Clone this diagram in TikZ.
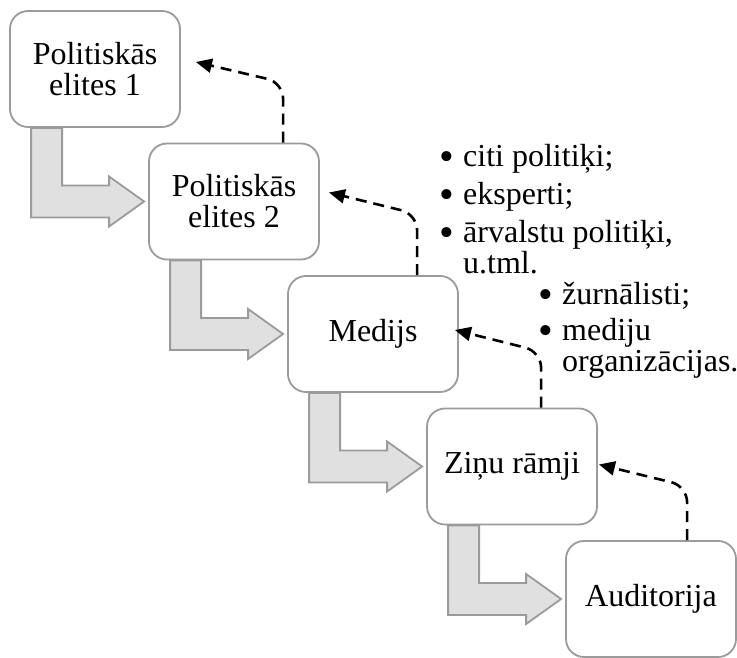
\documentclass[tikz,border=0pt]{standalone}
\usepackage{fontspec}
\setmainfont{Liberation Serif}
\usetikzlibrary{arrows.meta}
\definecolor{linegray}{RGB}{155,155,155}
\definecolor{fillgray}{RGB}{224,224,224}
\newcommand{\itemdot}{\makebox[23pt][l]{\hspace{-1pt}\raisebox{-4pt}{\fontsize{42}{31}\selectfont •}}}
\tikzset{
  stage/.style={draw=linegray, line width=1.8pt, fill=white, rounded corners=18pt,
    minimum width=170pt, minimum height=116pt, inner sep=0pt, align=center},
  flow/.style={draw=linegray, line width=1.8pt, fill=fillgray},
  feedback/.style={line width=2.6pt, dash pattern=on 11pt off 7pt, rounded corners=16pt,
    -{Triangle[length=16pt,width=14pt]}},
  notes/.style={anchor=base west, inner sep=0pt}
}
\begin{document}
\begin{tikzpicture}[x=1pt,y=1pt,font=\fontsize{32}{31}\selectfont]
  \useasboundingbox (0,0) rectangle (737,657);
  % stages
  \node[stage] (elite1) at (95,588) {Politiskās\\elites 1};
  \node[stage] (elite2) at (234,455.5) {Politiskās\\elites 2};
  \node[stage] (medijs) at (373,323) {Medijs};
  \node[stage] (ramji) at (512,190.5) {Ziņu rāmji};
  \node[stage] (audit) at (651,58) {Auditorija};
  % side notes
  \node[notes] (list1) at (440,490) {\begin{tabular}[t]{@{}l@{}l@{}}
    \itemdot&citi politiķi;\\[6pt]
    \itemdot&eksperti;\\[6pt]
    \itemdot&ārvalstu politiķi,\\
    &u.tml.\end{tabular}};
  \node[notes] (list2) at (539,352) {\begin{tabular}[t]{@{}l@{}l@{}}
    \itemdot&žurnālisti;\\[4pt]
    \itemdot&mediju\\
    &organizācijas.\end{tabular}};
  % block arrows down the steps
  \draw[flow] ([xshift=22]elite1.south west) |- ([xshift=-39,yshift=-16]elite2.west) -- ++(0,-9)
    -- ([xshift=-4]elite2.west) -- ++(-35,25) -- ++(0,-9) -| ([xshift=53]elite1.south west) -- cycle;
  \draw[flow] ([xshift=22]elite2.south west) |- ([xshift=-39,yshift=-16]medijs.west) -- ++(0,-9)
    -- ([xshift=-4]medijs.west) -- ++(-35,25) -- ++(0,-9) -| ([xshift=53]elite2.south west) -- cycle;
  \draw[flow] ([xshift=22]medijs.south west) |- ([xshift=-39,yshift=-16]ramji.west) -- ++(0,-9)
    -- ([xshift=-4]ramji.west) -- ++(-35,25) -- ++(0,-9) -| ([xshift=53]medijs.south west) -- cycle;
  \draw[flow] ([xshift=22]ramji.south west) |- ([xshift=-39,yshift=-16]audit.west) -- ++(0,-9)
    -- ([xshift=-4]audit.west) -- ++(-35,25) -- ++(0,-9) -| ([xshift=53]ramji.south west) -- cycle;
  % dashed feedback back up
  \draw[feedback] ([xshift=135]elite2.north west) -- ++(0,60) -- ([xshift=15,yshift=7]elite1.east);
  \draw[feedback] ([xshift=130]medijs.north west) -- ++(0,61) -- ([xshift=9,yshift=9]elite2.east);
  \draw[feedback] ([xshift=115]ramji.north west) -- ++(0,56) -- ([xshift=-4,yshift=4]medijs.east);
  \draw[feedback] ([xshift=122]audit.north west) -- ++(0,54) -- ([xshift=1,yshift=2]ramji.east);
\end{tikzpicture}
\end{document}
